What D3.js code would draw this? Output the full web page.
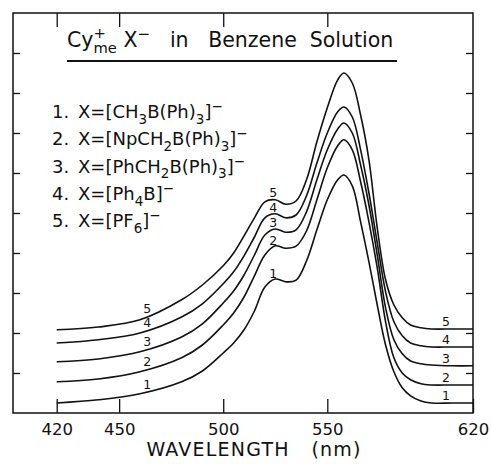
<!DOCTYPE html>
<html>
<head>
<meta charset="utf-8">
<script src="https://cdn.jsdelivr.net/npm/d3@7"></script>
<style>
	body { margin: 0; background: #fff; }
	svg text { font-family: 'DejaVu Sans', sans-serif; fill: #111; white-space: pre; }
</style>
</head>
<body>
<div id="chart"></div>
<script>
// wavelengths (nm) where the spectra were read
var wavelengths = [420, 440, 460, 480, 490, 500, 505, 510, 515, 520, 525, 530, 535, 540, 545, 550, 555, 558, 562, 566, 570, 574, 578, 582, 586, 590, 595, 600, 610, 620];

// absorbance (arbitrary units, curves offset) for the 5 salts
var absorb1 = [0.25, 0.33, 0.48, 0.78, 1.05, 1.50, 1.75, 2.08, 2.55, 3.15, 3.35, 3.28, 3.32, 3.80, 4.58, 5.33, 5.83, 5.95, 5.68, 4.78, 3.78, 2.70, 1.70, 1.03, 0.63, 0.43, 0.30, 0.25, 0.25, 0.25];
var absorb2 = [0.78, 0.85, 1.03, 1.38, 1.70, 2.20, 2.50, 2.90, 3.43, 3.95, 4.18, 4.12, 4.17, 4.55, 5.33, 6.13, 6.68, 6.83, 6.58, 5.78, 4.78, 3.63, 2.28, 1.38, 1.00, 0.83, 0.73, 0.70, 0.70, 0.70];
var absorb3 = [1.28, 1.35, 1.53, 1.90, 2.23, 2.75, 3.05, 3.45, 3.95, 4.45, 4.60, 4.52, 4.58, 5.03, 5.83, 6.58, 7.10, 7.25, 7.00, 6.20, 5.20, 3.95, 2.63, 1.83, 1.48, 1.30, 1.23, 1.20, 1.18, 1.18];
var absorb4 = [1.75, 1.83, 2.00, 2.40, 2.73, 3.23, 3.53, 3.93, 4.40, 4.88, 4.98, 4.88, 4.95, 5.43, 6.25, 7.00, 7.53, 7.65, 7.40, 6.58, 5.50, 4.25, 3.03, 2.28, 1.93, 1.75, 1.68, 1.65, 1.65, 1.65];
var absorb5 = [2.08, 2.15, 2.33, 2.83, 3.20, 3.68, 4.00, 4.43, 4.88, 5.28, 5.33, 5.22, 5.30, 5.83, 6.78, 7.63, 8.33, 8.50, 8.25, 7.45, 6.33, 4.63, 3.33, 2.70, 2.38, 2.20, 2.13, 2.10, 2.10, 2.10];

var seriesNames = ['1', '2', '3', '4', '5'];
var labelWavelengths = [463.5, 524, 607];

var xTickValues = [420, 450, 500, 550, 620];
var yTickValues = [1, 2, 3, 4, 5, 6, 7, 8, 9];

// legend: [text, kind] kind = '' | 'sub' | 'sup' | 'stack'
var legendNumbers = ['1.', '2.', '3.', '4.', '5.'];
var legendAnions = [
	[['X=[CH'], ['3', 'sub'], ['B(Ph)'], ['3', 'sub'], [']'], ['\u2212', 'sup']],
	[['X=[NpCH'], ['2', 'sub'], ['B(Ph)'], ['3', 'sub'], [']'], ['\u2212', 'sup']],
	[['X=[PhCH'], ['2', 'sub'], ['B(Ph)'], ['3', 'sub'], [']'], ['\u2212', 'sup']],
	[['X=[Ph'], ['4', 'sub'], ['B]'], ['\u2212', 'sup']],
	[['X=[PF'], ['6', 'sub'], [']'], ['\u2212', 'sup']]
];
var titleParts = [['Cy'], ['+|me', 'stack'], [' X'], ['\u2212', 'sup'], ['   in   Benzene  Solution']];
var xTitle = 'WAVELENGTH   (nm)';

var width = 491;
var height = 464;
var plotLeft = 13, plotRight = 473, plotTop = 13, plotBottom = 413;

var svg = d3
	.select('#chart')
	.append('svg')
	.attr('width', width)
	.attr('height', height);

var x = d3
	.scaleLinear()
	.domain([399, 620])
	.range([plotLeft, plotRight]);

var y = d3
	.scaleLinear()
	.domain([0, 10])
	.range([plotBottom, plotTop]);

var allSeries = [absorb1, absorb2, absorb3, absorb4, absorb5];

// FRAME
svg
	.append('rect')
	.attr('x', plotLeft)
	.attr('y', plotTop)
	.attr('width', plotRight - plotLeft)
	.attr('height', plotBottom - plotTop)
	.attr('fill', 'none')
	.attr('stroke', '#111')
	.attr('stroke-width', 1.5);

// AXES (ticks pointing inward)
var gxb = svg.append('g')
	.attr('transform', 'translate(0,' + plotBottom + ')')
	.call(d3.axisBottom(x).tickValues(xTickValues).tickSize(-14).tickPadding(10).tickFormat(d3.format('d')));
var gxt = svg.append('g')
	.attr('transform', 'translate(0,' + plotTop + ')')
	.call(d3.axisTop(x).tickValues(xTickValues.slice(0, 4)).tickSize(-14).tickFormat(''));
var gyl = svg.append('g')
	.attr('transform', 'translate(' + plotLeft + ',0)')
	.call(d3.axisLeft(y).tickValues(yTickValues).tickSize(-7).tickFormat(''));
var gyr = svg.append('g')
	.attr('transform', 'translate(' + plotRight + ',0)')
	.call(d3.axisRight(y).tickValues(yTickValues).tickSize(-7).tickFormat(''));

[gxb, gxt, gyl, gyr].forEach(function(g){
	g.select('.domain').remove();
	g.selectAll('.tick line').attr('stroke', '#111').attr('stroke-width', 1.3);
});
gxb.selectAll('.tick text')
	.attr('fill', '#111')
	.style('font-size', '16.5px')
	.style('font-family', "'DejaVu Sans', sans-serif");

svg
	.append('text')
	.attr('x', 254)
	.attr('y', 456)
	.attr('text-anchor', 'middle')
	.style('font-size', '19px')
	.style('letter-spacing', '1.2px')
	.text(xTitle);

// CURVES
var line = d3
	.line()
	.x(function(d, i){ return x(wavelengths[i]); })
	.y(function(d){ return y(d); })
	.curve(d3.curveCatmullRom.alpha(0.5));

svg
	.append('g')
	.selectAll('path')
	.data(allSeries)
	.enter()
	.append('path')
	.attr('d', line)
	.attr('fill', 'none')
	.attr('stroke', '#111')
	.attr('stroke-width', 1.6);

function valueAt(series, w){
	var i = d3.bisectLeft(wavelengths, w);
	if (i <= 0) return series[0];
	var t = (w - wavelengths[i - 1]) / (wavelengths[i] - wavelengths[i - 1]);
	return series[i - 1] + t * (series[i] - series[i - 1]);
}

// CURVE NUMBERS
allSeries.forEach(function(s, k){
	labelWavelengths.forEach(function(w){
		svg
			.append('text')
			.attr('x', x(w))
			.attr('y', y(valueAt(s, w)) - 3)
			.attr('text-anchor', 'middle')
			.style('font-size', '12.5px')
			.text(seriesNames[k]);
	});
});

// RICH TEXT (sub / superscripts)
function richtext(g, x0, y0, parts, fs){
	var cx = x0;
	parts.forEach(function(p){
		var kind = p[1] || '';
		if (kind == 'stack'){
			var a = g.append('text').attr('x', cx).attr('y', y0 - fs * 0.42).style('font-size', fs * 0.72 + 'px').text(p[0].split('|')[0]);
			var b = g.append('text').attr('x', cx).attr('y', y0 + fs * 0.3).style('font-size', fs * 0.72 + 'px').text(p[0].split('|')[1]);
			cx += Math.max(a.node().getComputedTextLength(), b.node().getComputedTextLength());
		} else {
			var dy = (kind == 'sub') ? fs * 0.32 : (kind == 'sup') ? -fs * 0.38 : 0;
			var size = (kind == '') ? fs : fs * 0.75;
			var el = g.append('text').attr('x', cx).attr('y', y0 + dy).style('font-size', size + 'px').text(p[0]);
			cx += el.node().getComputedTextLength();
		}
	});
	return cx;
}

// TITLE
var gt = svg.append('g');
richtext(gt, 67, 47, titleParts, 20.5);
gt
	.append('line')
	.attr('x1', 67)
	.attr('x2', 397)
	.attr('y1', 61)
	.attr('y2', 61)
	.attr('stroke', '#111')
	.attr('stroke-width', 2);

// LEGEND
var gl = svg.append('g');
legendNumbers.forEach(function(n, i){
	var yy = 118 + i * 27.3;
	gl.append('text').attr('x', 52).attr('y', yy).style('font-size', '18px').text(n);
	richtext(gl, 78, yy, legendAnions[i], 18);
});
</script>
</body>
</html>
